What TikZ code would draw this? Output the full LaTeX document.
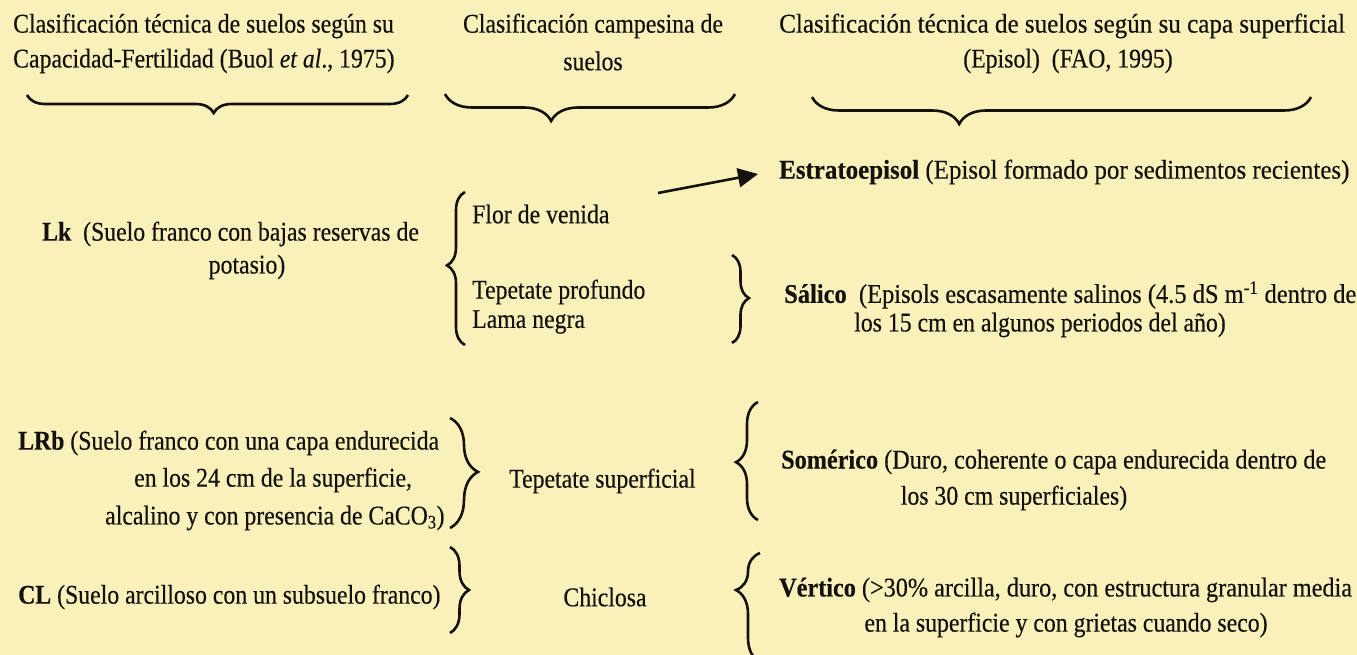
\documentclass[tikz,border=0pt]{standalone}
\usepackage{fontspec}
\setmainfont[FakeStretch=0.88,FakeBold=0.4]{Liberation Serif}
\usetikzlibrary{decorations.pathreplacing,arrows.meta}
\definecolor{bg}{RGB}{250,241,186}
\definecolor{ink}{RGB}{20,17,14}
\newcommand{\hsc}[2]{\scalebox{#1}[1]{#2}}
\begin{document}
\begin{tikzpicture}[x=1pt,y=1pt,
  txt/.style={inner sep=0pt, text=ink, font=\fontsize{27}{35}\selectfont},
  lt/.style={txt, anchor=west},
  ct/.style={txt, anchor=center},
  brc/.style={draw=ink, line width=2.6pt, decorate, decoration={brace, amplitude=#1}},
  arw/.style={draw=ink, line width=2.6pt, -{Triangle[length=20pt,width=19pt]}},
]
\fill[bg] (0,0) rectangle (1357,-655);
\useasboundingbox (0,0) rectangle (1357,-655);

% headers
\node[lt] (h1a) at (13,-26) {Clasificación técnica de suelos según su};
\node[lt] (h1b) at (13,-61) {Capacidad-Fertilidad (Buol \textit{et al}., 1975)};
\node[ct] (h2a) at (593,-26) {Clasificación campesina de};
\node[ct] (h2b) at (593,-61) {suelos};
\node[lt] (h3a) at (779,-26) {\hsc{1.055}{Clasificación técnica de suelos según su capa superficial}};
\node[ct] (h3b) at (1068,-61) {(Episol)\ \ (FAO, 1995)};

% header braces
\coordinate (b1l) at (27,-95);  \coordinate (b1r) at (408,-95);
\coordinate (b2l) at (445,-94); \coordinate (b2r) at (735,-94);
\coordinate (b3l) at (812,-97); \coordinate (b3r) at (1311,-97);
\draw[brc=18pt, decoration={aspect=0.51}] (b1r) -- (b1l);
\draw[brc=27pt, decoration={aspect=0.634}] (b2r) -- (b2l);
\draw[brc=27pt, decoration={aspect=0.705}] (b3r) -- (b3l);

% row 1
\node[lt] (lk) at (42,-234) {\textbf{Lk}\ \ (Suelo franco con bajas reservas de};
\node[ct] (lk2) at (247,-267) {potasio)};
\node[lt] (flor) at (472,-214) {Flor de venida};
\node[lt] (tp) at (472,-292) {Tepetate profundo};
\node[lt] (lama) at (472,-322) {Lama negra};
\coordinate (r1a) at (465,-345); \coordinate (r1b) at (465,-192);
\draw[brc=18pt, decoration={aspect=0.52}] (r1a) -- (r1b);

\node[lt] (est) at (779,-172) {\hsc{1.05}{\textbf{Estratoepisol} (Episol formado por sedimentos recientes)}};
\coordinate (a0) at (658,-193);
\draw[arw] (a0) -- ([xshift=-21pt,yshift=-2pt]est.west);

\coordinate (r1c) at (732,-255); \coordinate (r1d) at (732,-343);
\draw[brc=17pt, decoration={aspect=0.49}] (r1c) -- (r1d);
\node[lt] (sal) at (784,-295) {\hsc{1.03}{\textbf{Sálico}\ \ (Episols escasamente salinos (4.5 dS m\textsuperscript{-1} dentro de}};
\node[ct] (sal2) at (1040,-325) {los 15 cm en algunos periodos del año)};

% row 2
\node[lt] (lrb) at (18,-443) {\textbf{LRb} (Suelo franco con una capa endurecida};
\node[lt] (lrb2) at (134,-480) {en los 24 cm de la superficie,};
\node[lt] (lrb3) at (105,-518) {alcalino y con presencia de CaCO\textsubscript{3})};
\coordinate (r2a) at (450,-418); \coordinate (r2b) at (450,-528);
\draw[brc=28pt, decoration={aspect=0.49}] (r2a) -- (r2b);
\node[lt] (tsup) at (509,-481) {Tepetate superficial};
\coordinate (r2c) at (758,-520); \coordinate (r2d) at (758,-402);
\draw[brc=22pt, decoration={aspect=0.49}] (r2c) -- (r2d);
\node[lt] (som) at (781,-462) {\hsc{1.02}{\textbf{Somérico} (Duro, coherente o capa endurecida dentro de}};
\node[ct] (som2) at (1014,-498) {los 30 cm superficiales)};

% row 3
\coordinate (r3a) at (450,-547); \coordinate (r3b) at (450,-633);
\draw[brc=19pt, decoration={aspect=0.5}] (r3a) -- (r3b);
\node[lt] (cl) at (18,-597) {\textbf{CL} (Suelo arcilloso con un subsuelo franco)};
\node[ct] (chi) at (605,-597) {Chiclosa};
\coordinate (r3c) at (760,-662); \coordinate (r3d) at (760,-553);
\draw[brc=24pt, decoration={aspect=0.66}] (r3c) -- (r3d);
\node[lt] (ver) at (779,-590) {\hsc{1.02}{\textbf{Vértico} (>30\% arcilla, duro, con estructura granular media}};
\node[ct] (ver2) at (1066,-625) {en la superficie y con grietas cuando seco)};
\end{tikzpicture}
\end{document}
